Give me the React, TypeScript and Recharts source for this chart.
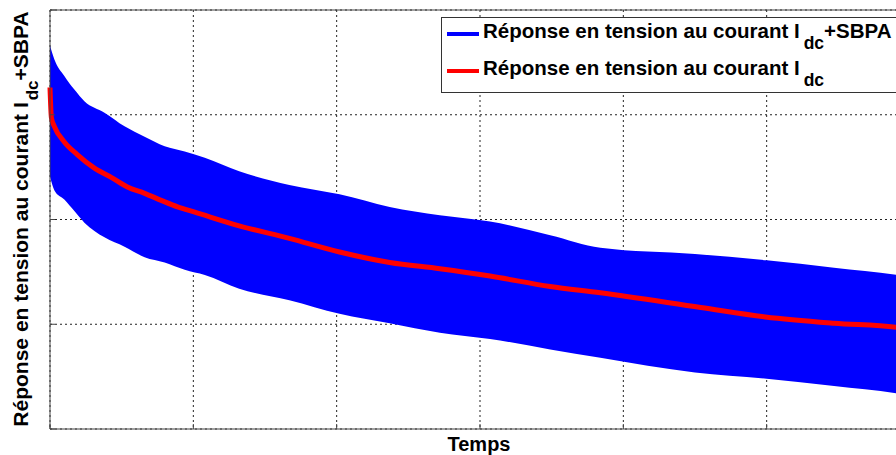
import { Area, CartesianGrid, ComposedChart, Legend, Line, XAxis, YAxis } from "recharts";

// time axis has no tick labels in the source, values are in grid units
const envTime = [0, 0.03, 0.1, 0.17, 0.24, 0.38, 0.52, 0.66, 0.8, 0.94, 1.08, 1.32, 1.67, 2.02, 2.37, 2.72, 3.07, 3.49, 3.84, 4.5, 5.0, 5.47, 5.91, 6];
const envUpper = [3.66, 3.53, 3.37, 3.24, 3.13, 3.02, 2.89, 2.79, 2.7, 2.65, 2.59, 2.46, 2.33, 2.24, 2.12, 2.04, 1.98, 1.85, 1.73, 1.67, 1.61, 1.54, 1.47, 1.45];
const envLower = [2.41, 2.28, 2.19, 2.08, 1.97, 1.83, 1.74, 1.64, 1.59, 1.52, 1.47, 1.34, 1.23, 1.1, 1.01, 0.92, 0.86, 0.76, 0.68, 0.54, 0.48, 0.41, 0.34, 0.32];

const meanTime = [0, 0.01, 0.03, 0.1, 0.19, 0.31, 0.43, 0.54, 0.66, 0.78, 0.89, 1.01, 1.32, 1.67, 2.02, 2.37, 2.72, 3.07, 3.49, 3.84, 4.54, 4.99, 5.47, 5.91, 6];
const meanValue = [3.26, 2.97, 2.89, 2.74, 2.62, 2.49, 2.4, 2.31, 2.25, 2.18, 2.12, 2.07, 1.94, 1.82, 1.69, 1.59, 1.53, 1.46, 1.36, 1.3, 1.16, 1.07, 1.01, 0.97, 0.95];

const xTicks = [0, 1, 2, 3, 4, 5, 6];
const yTicks = [0, 1, 2, 3, 4];

const labelMain = "Réponse en tension au courant I";
const labelSub = "dc";
const bandSuffix = "+SBPA";
const xLabel = "Temps";

const bandData = envTime.map((t, i) => ({ t, band: [envLower[i], envUpper[i]] }));
const meanData = meanTime.map((t, i) => ({ t, mean: meanValue[i] }));

const FONT = '"Liberation Sans", Arial, Helvetica, sans-serif';
const AXIS = "#444";
const BLUE = "#0000ff";
const RED = "#ff0000";

function YLabel() {
  const cx = 28;
  const cy = 219;
  return (
    <text
      x={cx}
      y={cy}
      transform={`rotate(-90 ${cx} ${cy})`}
      textAnchor="middle"
      fontFamily={FONT}
      fontWeight="bold"
      fontSize={21}
      fill="#000"
    >
      {labelMain}
      <tspan dx={2} dy={10} fontSize={17}>{labelSub}</tspan>
      <tspan dy={-10}>{bandSuffix}</tspan>
    </text>
  );
}

function XLabel() {
  return (
    <text x={479} y={451} textAnchor="middle" fontFamily={FONT} fontWeight="bold" fontSize={20} fill="#000">
      {xLabel}
    </text>
  );
}

function LegendBox() {
  const rows = [
    { color: BLUE, tail: bandSuffix, y: 17 },
    { color: RED, tail: "", y: 54 },
  ];
  return (
    <svg width={480} height={76}>
      <rect x={0.5} y={0.5} width={478} height={75} fill="#fff" stroke="#333" />
      {rows.map((r) => (
        <g key={r.y}>
          <line x1={6} x2={38} y1={r.y} y2={r.y} stroke={r.color} strokeWidth={4} />
          <text x={42} y={r.y + 4} fontFamily={FONT} fontWeight="bold" fontSize={20.5} fill="#000">
            {labelMain}
            <tspan dx={4} dy={11} fontSize={17.5}>{labelSub}</tspan>
            {r.tail ? <tspan dy={-11}>{r.tail}</tspan> : null}
          </text>
        </g>
      ))}
    </svg>
  );
}

// no tick labels, only the inward tick marks
const noLabel = () => <g />;

const axisProps = {
  type: "number" as const,
  tick: noLabel,
  tickSize: 5,
  mirror: true,
  axisLine: { stroke: AXIS },
  tickLine: { stroke: AXIS },
};

export default function App() {
  return (
    <div style={{ position: "absolute", left: 0, top: 0, width: 896, height: 455, overflow: "hidden", background: "#fff" }}>
      <ComposedChart width={930} height={455} margin={{ top: 10, right: 20, bottom: 26, left: 50 }}>
        <CartesianGrid stroke="#222" strokeDasharray="2 3" />
        <XAxis {...axisProps} dataKey="t" domain={[0, 6]} ticks={xTicks} height={1} label={<XLabel />} />
        <XAxis {...axisProps} xAxisId="top" orientation="top" dataKey="t" domain={[0, 6]} ticks={xTicks} height={1} />
        <YAxis {...axisProps} domain={[0, 4]} ticks={yTicks} width={1} label={<YLabel />} />
        <YAxis {...axisProps} yAxisId="right" orientation="right" domain={[0, 4]} ticks={yTicks} width={1} />
        <Legend
          layout="vertical"
          align="center"
          verticalAlign="middle"
          wrapperStyle={{ position: "absolute", left: 441, top: 17, width: 480, height: 76 }}
          content={<LegendBox />}
        />
        <Area
          data={bandData}
          dataKey="band"
          name={labelMain + labelSub + bandSuffix}
          type="monotone"
          stroke="none"
          fill={BLUE}
          fillOpacity={1}
          isAnimationActive={false}
        />
        <Line
          data={meanData}
          dataKey="mean"
          name={labelMain + labelSub}
          type="monotone"
          stroke={RED}
          strokeWidth={5}
          dot={false}
          isAnimationActive={false}
        />
      </ComposedChart>
    </div>
  );
}
